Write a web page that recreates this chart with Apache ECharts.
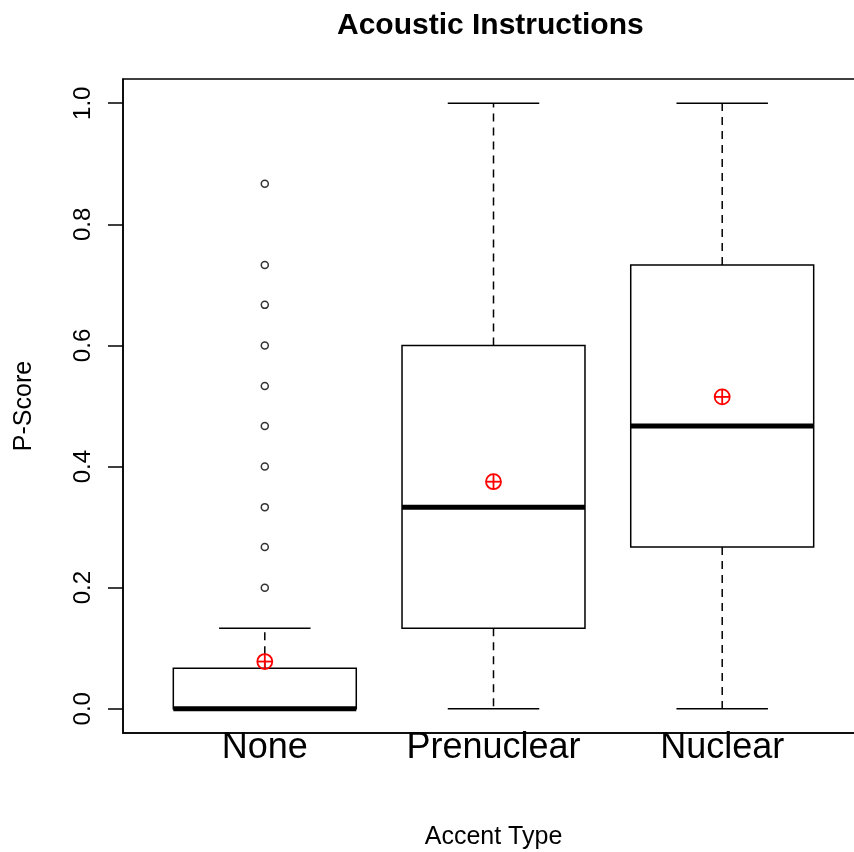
<!DOCTYPE html>
<html>
<head>
<meta charset="utf-8">
<script src="https://cdn.jsdelivr.net/npm/echarts@6/dist/echarts.min.js"></script>
<style>
  html, body { margin: 0; padding: 0; background: #ffffff; }
  #chart { width: 854px; height: 852px; }
</style>
</head>
<body>
<div id="chart"></div>
<script>
// Accent types along the x axis
const categories = ['None', 'Prenuclear', 'Nuclear'];

// Five-number summaries per accent type
const whiskerLow  = [0.000, 0.000, 0.000];
const quartile1   = [0.000, 0.133, 0.267];
const medians     = [0.000, 0.333, 0.467];
const quartile3   = [0.067, 0.600, 0.733];
const whiskerHigh = [0.133, 1.000, 1.000];

// Group means (red markers)
const means = [0.078, 0.375, 0.515];

// Outlying P-Scores for the "None" group
const outliersNone = [0.200, 0.267, 0.333, 0.400, 0.467, 0.533, 0.600, 0.667, 0.733, 0.867];

// Y tick labels
const yTicks = [0.0, 0.2, 0.4, 0.6, 0.8, 1.0];

const FONT = '"Liberation Sans", Arial, sans-serif';

const boxData = categories.map((c, i) => [i + 1, whiskerLow[i], quartile1[i], medians[i], quartile3[i], whiskerHigh[i]]);
const meanData = means.map((m, i) => [i + 1, m]);
const outlierData = outliersNone.map(v => [1, v]);

function renderBox(params, api) {
  const x = api.value(0);
  const lo = api.coord([x, api.value(1)]);
  const q1 = api.coord([x, api.value(2)]);
  const md = api.coord([x, api.value(3)]);
  const q3 = api.coord([x, api.value(4)]);
  const hi = api.coord([x, api.value(5)]);
  const halfBox = (api.coord([x + 0.4, 0])[0] - lo[0]);
  const halfCap = (api.coord([x + 0.2, 0])[0] - lo[0]);
  const cx = lo[0];
  const lineStyle = { stroke: '#000', lineWidth: 1.5, fill: null };
  const dashStyle = { stroke: '#000', lineWidth: 1.5, lineDash: [8, 6] };
  return {
    type: 'group',
    children: [
      { type: 'line', shape: { x1: cx, y1: q3[1], x2: cx, y2: hi[1] }, style: dashStyle },
      { type: 'line', shape: { x1: cx, y1: q1[1], x2: cx, y2: lo[1] }, style: dashStyle },
      { type: 'line', shape: { x1: cx - halfCap, y1: hi[1], x2: cx + halfCap, y2: hi[1] }, style: lineStyle },
      { type: 'line', shape: { x1: cx - halfCap, y1: lo[1], x2: cx + halfCap, y2: lo[1] }, style: lineStyle },
      { type: 'rect', shape: { x: cx - halfBox, y: q3[1], width: 2 * halfBox, height: q1[1] - q3[1] },
        style: { fill: '#fff', stroke: '#000', lineWidth: 1.5 } },
      { type: 'line', shape: { x1: cx - halfBox, y1: md[1], x2: cx + halfBox, y2: md[1] },
        style: { stroke: '#000', lineWidth: 5 } }
    ]
  };
}

function renderMean(params, api) {
  const p = api.coord([api.value(0), api.value(1)]);
  const r = 7.5;
  const st = { stroke: '#ff0000', lineWidth: 1.8, fill: null };
  return {
    type: 'group',
    children: [
      { type: 'circle', shape: { cx: p[0], cy: p[1], r: r }, style: st },
      { type: 'line', shape: { x1: p[0] - r, y1: p[1], x2: p[0] + r, y2: p[1] }, style: st },
      { type: 'line', shape: { x1: p[0], y1: p[1] - r, x2: p[0], y2: p[1] + r }, style: st }
    ]
  };
}

const chart = echarts.init(document.getElementById('chart'), null, { renderer: 'canvas' });

chart.setOption({
  backgroundColor: '#ffffff',
  animation: false,
  title: {
    text: 'Acoustic Instructions',
    left: 332,
    top: 6,
    textStyle: { fontFamily: FONT, fontSize: 30, fontWeight: 'bold', color: '#000' }
  },
  grid: {
    left: 123, right: -10, top: 79, bottom: 119,
    outerBoundsMode: 'none',
    containLabel: false,
    show: true, borderColor: '#000', borderWidth: 1.5, backgroundColor: 'transparent'
  },
  xAxis: {
    type: 'value',
    min: 0.38, max: 3.62,
    name: 'Accent Type',
    nameLocation: 'middle',
    nameGap: 92,
    nameTextStyle: { fontFamily: FONT, fontSize: 25, color: '#000' },
    axisLine: { show: true, onZero: false, lineStyle: { color: '#000', width: 1.5 } },
    axisTick: { show: false },
    splitLine: { show: false },
    axisLabel: {
      customValues: [1, 2, 3],
      formatter: v => categories[Math.round(v) - 1],
      fontFamily: FONT, fontSize: 36, color: '#000', margin: -3
    }
  },
  yAxis: {
    type: 'value',
    min: -0.04, max: 1.04,
    name: 'P-Score',
    nameLocation: 'middle',
    nameGap: 86,
    nameRotate: 90,
    nameTextStyle: { fontFamily: FONT, fontSize: 25, color: '#000' },
    axisLine: { show: true, onZero: false, lineStyle: { color: '#000', width: 1.5 } },
    axisTick: { show: true, customValues: yTicks, length: 15, lineStyle: { color: '#000', width: 1.5 } },
    splitLine: { show: false },
    axisLabel: {
      customValues: yTicks,
      formatter: v => v.toFixed(1),
      rotate: 90,
      fontFamily: FONT, fontSize: 24, color: '#000', margin: 28
    }
  },
  series: [
    {
      type: 'custom',
      renderItem: renderBox,
      data: boxData,
      encode: { x: 0, y: [1, 2, 3, 4, 5] },
      z: 2
    },
    {
      type: 'scatter',
      data: outlierData,
      symbol: 'circle',
      symbolSize: 7,
      itemStyle: { color: '#fff', borderColor: '#000', borderWidth: 1.5 },
      z: 3
    },
    {
      type: 'custom',
      renderItem: renderMean,
      data: meanData,
      encode: { x: 0, y: 1 },
      z: 4
    }
  ]
});
</script>
</body>
</html>
